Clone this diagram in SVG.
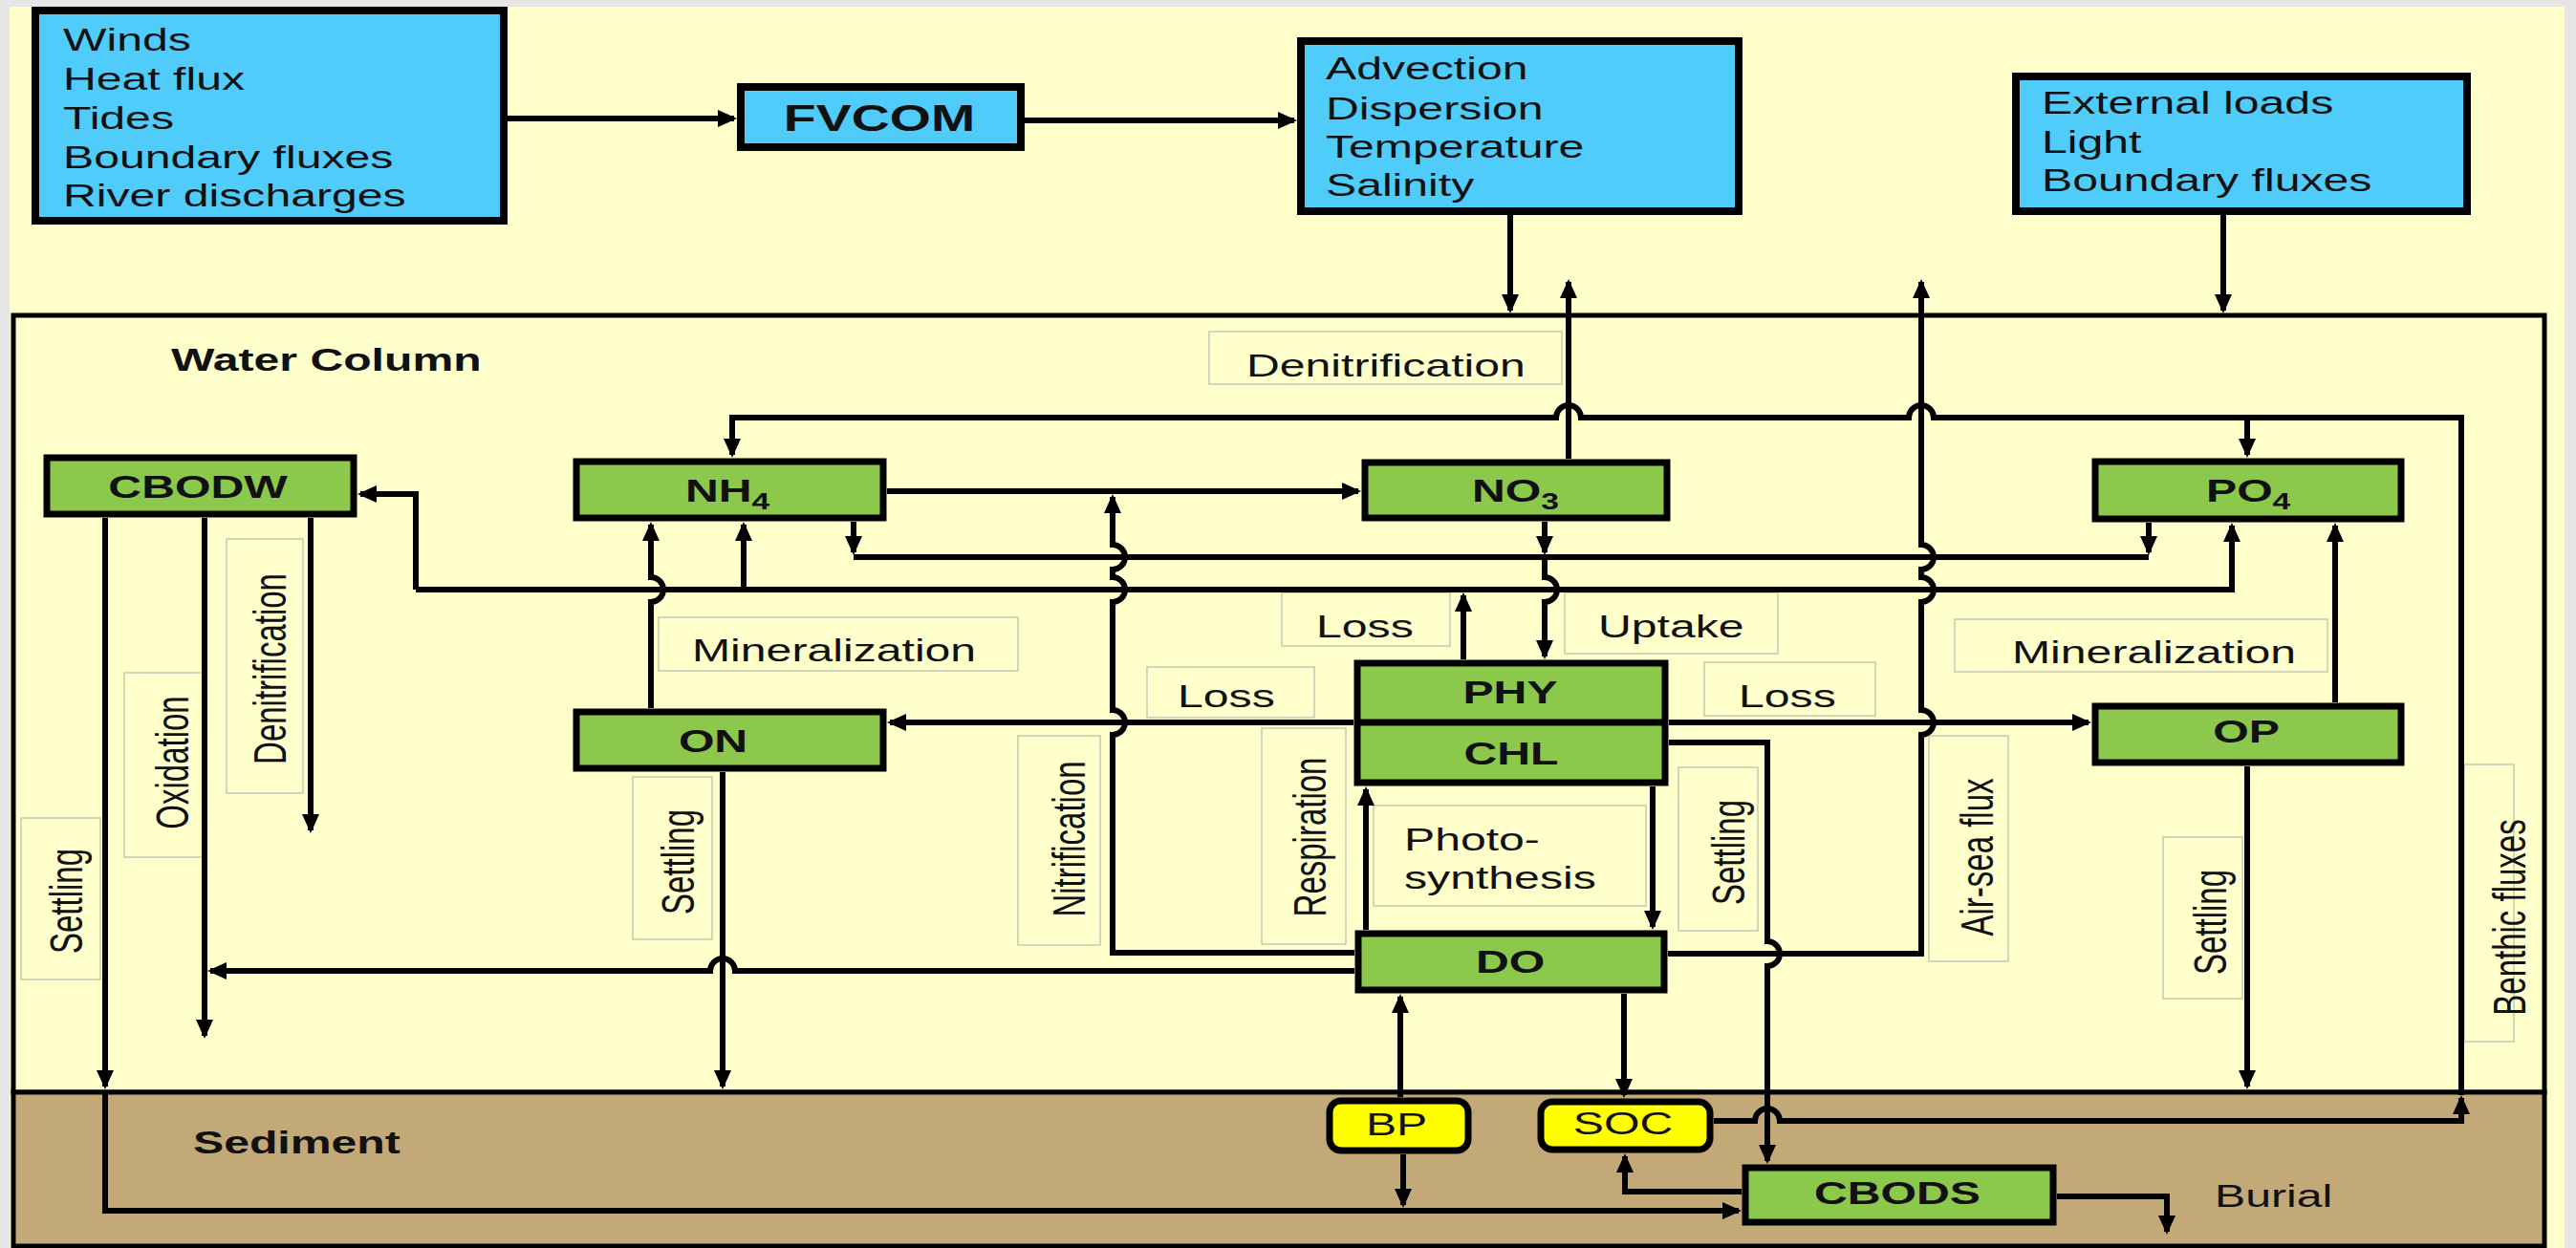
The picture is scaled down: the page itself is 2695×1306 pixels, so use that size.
<svg xmlns="http://www.w3.org/2000/svg" width="2695" height="1306" viewBox="0 0 2695 1306">
<defs>
<style>
.t{font-family:"Liberation Sans",Arial,sans-serif;font-size:33px;fill:#111}
.b{font-weight:bold}
.in{fill:#4FCCFA;stroke:#000;stroke-width:8}
.nd{fill:#8CC84B;stroke:#000;stroke-width:7}
.ye{fill:#FFFF00;stroke:#000;stroke-width:7}
.lb{fill:none;stroke:#C8C8B4;stroke-width:1.5}
.c{fill:none;stroke:#000;stroke-width:6}
.a{marker-end:url(#ah)}
</style>
<marker id="ah" viewBox="0 0 20 18" refX="17" refY="9" markerWidth="20" markerHeight="18" markerUnits="userSpaceOnUse" orient="auto">
<path d="M0,0 L20,9 L0,18 z" fill="#000"/>
</marker>
</defs>

<rect x="0" y="0" width="2695" height="1306" fill="#E6E6E6"/>
<rect x="10" y="7" width="2673" height="1299" fill="#FFFFCC"/>

<g id="water-column">
<rect x="14" y="330" width="2648" height="813" fill="#FFFFCC" stroke="#000" stroke-width="5"/>
<text class="t b" transform="translate(179,388) scale(1.46,1)">Water Column</text>
</g>
<g id="sediment">
<rect x="14" y="1143" width="2648" height="161" fill="#C3A977" stroke="#000" stroke-width="5"/>
<text class="t b" transform="translate(202,1207) scale(1.46,1)">Sediment</text>
</g>

<g id="labels">
<rect class="lb" x="1265" y="347" width="369" height="55"/>
<rect class="lb" x="689" y="646" width="376" height="56"/>
<rect class="lb" x="1341" y="620" width="176" height="56"/>
<rect class="lb" x="1637" y="620" width="223" height="64"/>
<rect class="lb" x="1200" y="698" width="175" height="53"/>
<rect class="lb" x="1783" y="693" width="179" height="56"/>
<rect class="lb" x="2045" y="648" width="390" height="55"/>
<rect class="lb" x="1437" y="843" width="285" height="105"/>
<rect class="lb" x="1320" y="762" width="88" height="226"/>
<rect class="lb" x="1065" y="770" width="86" height="219"/>
<rect class="lb" x="1756" y="803" width="83" height="171"/>
<rect class="lb" x="2018" y="770" width="83" height="236"/>
<rect class="lb" x="2263" y="876" width="83" height="169"/>
<rect class="lb" x="662" y="813" width="83" height="170"/>
<rect class="lb" x="22" y="856" width="83" height="169"/>
<rect class="lb" x="130" y="704" width="82" height="193"/>
<rect class="lb" x="237" y="564" width="80" height="266"/>
<rect class="lb" x="2578" y="800" width="52" height="290"/>
</g>

<g id="connectors">
<path class="c a" d="M531,124 H768"/>
<path class="c a" d="M1072,126 H1354"/>
<path class="c a" d="M1580,225 V325"/>
<path class="c a" d="M2326,225 V325"/>
<path class="c a" d="M1641,480 V295"/>
<path class="c a" d="M1745,998 H2010 V769 A13,13 0 0 0 2010,743 V630 A13,13 0 0 0 2010,604 V596 A13,13 0 0 0 2010,570 V295"/>
<path class="c a" d="M1746,777 H1849 V985 A13,13 0 0 1 1849,1011 V1215"/>
<path class="c a" d="M1729,823 V970"/>
<path class="c a" d="M1429,973 V826"/>
<path class="c a" d="M1531,690 V623"/>
<path class="c a" d="M893,546 V578"/>
<path class="c a" d="M1616,546 V578"/>
<path class="c a" d="M2248,547 V578"/>
<path class="c" d="M893,583 H2248"/>
<path class="c a" d="M1616,583 V604 A13,13 0 0 1 1616,630 V687"/>
<path class="c a" d="M435,617 H2335 V550"/>
<path class="c a" d="M435,617 V517 H377"/>
<path class="c a" d="M778,617 V549"/>
<path class="c a" d="M681,741 V630 A13,13 0 0 0 681,604 V549"/>
<path class="c a" d="M928,514 H1421"/>
<path class="c a" d="M1417,997 H1164 V769 A13,13 0 0 0 1164,743 V630 A13,13 0 0 0 1164,604 V596 A13,13 0 0 0 1164,570 V520"/>
<path class="c a" d="M1416,756 H931"/>
<path class="c a" d="M1746,756 H2185"/>
<path class="c a" d="M1417,1016 H769 A13,13 0 0 0 743,1016 H220"/>
<path class="c a" d="M110,542 V1137"/>
<path class="c a" d="M110,1143 V1267 H1819"/>
<path class="c a" d="M214,542 V1084"/>
<path class="c a" d="M325,542 V869"/>
<path class="c a" d="M756,808 V1137"/>
<path class="c a" d="M2351,802 V1137"/>
<path class="c a" d="M2443,735 V550"/>
<path class="c a" d="M1465,1148 V1043"/>
<path class="c a" d="M1468,1208 V1261"/>
<path class="c a" d="M1699,1040 V1146"/>
<path class="c a" d="M1822,1247 H1700 V1210"/>
<path class="c a" d="M1793,1173 H1836 A13,13 0 0 1 1862,1173 H2575 V1149"/>
<path class="c a" d="M2575,1146 V437 H2023 A13,13 0 0 0 1997,437 H1654 A13,13 0 0 0 1628,437 H766 V476"/>
<path class="c a" d="M2351,437 V476"/>
<path class="c a" d="M2152,1252 H2267 V1289"/>
</g>

<g id="node-forcing">
<rect class="in" x="37" y="11" width="490" height="220"/>
<text class="t" transform="translate(66,53) scale(1.46,1)">Winds</text>
<text class="t" transform="translate(66,94) scale(1.46,1)">Heat flux</text>
<text class="t" transform="translate(66,135) scale(1.46,1)">Tides</text>
<text class="t" transform="translate(66,176) scale(1.46,1)">Boundary fluxes</text>
<text class="t" transform="translate(66,216) scale(1.46,1)">River discharges</text>
</g>
<g id="node-fvcom">
<rect class="in" x="775" y="91" width="293" height="63"/>
<text class="t b" style="font-size:38px" text-anchor="middle" transform="translate(920,137) scale(1.46,1)">FVCOM</text>
</g>
<g id="node-hydro">
<rect class="in" x="1361" y="43" width="458" height="178"/>
<text class="t" transform="translate(1387,83) scale(1.46,1)">Advection</text>
<text class="t" transform="translate(1387,125) scale(1.46,1)">Dispersion</text>
<text class="t" transform="translate(1387,165) scale(1.46,1)">Temperature</text>
<text class="t" transform="translate(1387,205) scale(1.46,1)">Salinity</text>
</g>
<g id="node-external">
<rect class="in" x="2109" y="80" width="472" height="141"/>
<text class="t" transform="translate(2136,119) scale(1.46,1)">External loads</text>
<text class="t" transform="translate(2136,160) scale(1.46,1)">Light</text>
<text class="t" transform="translate(2136,200) scale(1.46,1)">Boundary fluxes</text>
</g>

<g id="node-cbodw">
<rect class="nd" x="49" y="479" width="321" height="59"/>
<text class="t b" text-anchor="middle" transform="translate(207,521) scale(1.46,1)">CBODW</text>
</g>
<g id="node-nh4">
<rect class="nd" x="603" y="483" width="321" height="59"/>
<text class="t b" transform="translate(717,525) scale(1.46,1)">NH<tspan dy="8" style="font-size:23px">4</tspan></text>
</g>
<g id="node-no3">
<rect class="nd" x="1428" y="484" width="316" height="58"/>
<text class="t b" transform="translate(1540,525) scale(1.46,1)">NO<tspan dy="8" style="font-size:23px">3</tspan></text>
</g>
<g id="node-po4">
<rect class="nd" x="2192" y="483" width="320" height="60"/>
<text class="t b" transform="translate(2308,525) scale(1.46,1)">PO<tspan dy="8" style="font-size:23px">4</tspan></text>
</g>
<g id="node-on">
<rect class="nd" x="603" y="745" width="321" height="59"/>
<text class="t b" text-anchor="middle" transform="translate(746,787) scale(1.46,1)">ON</text>
</g>
<g id="node-op">
<rect class="nd" x="2192" y="739" width="320" height="59"/>
<text class="t b" text-anchor="middle" transform="translate(2350,777) scale(1.46,1)">OP</text>
</g>
<g id="node-phy-chl">
<rect class="nd" x="1420" y="694" width="322" height="125"/>
<line x1="1420" y1="756" x2="1742" y2="756" stroke="#000" stroke-width="7"/>
<text class="t b" text-anchor="middle" transform="translate(1580,736) scale(1.46,1)">PHY</text>
<text class="t b" text-anchor="middle" transform="translate(1581,800) scale(1.46,1)">CHL</text>
</g>
<g id="node-do">
<rect class="nd" x="1421" y="977" width="320" height="59"/>
<text class="t b" text-anchor="middle" transform="translate(1580,1018) scale(1.46,1)">DO</text>
</g>
<g id="node-bp">
<rect class="ye" x="1391" y="1152" width="145" height="52" rx="12"/>
<text class="t" text-anchor="middle" transform="translate(1461,1188) scale(1.46,1)">BP</text>
</g>
<g id="node-soc">
<rect class="ye" x="1612" y="1153" width="177" height="50" rx="12"/>
<text class="t" text-anchor="middle" transform="translate(1698,1187) scale(1.46,1)">SOC</text>
</g>
<g id="node-cbods">
<rect class="nd" x="1826" y="1222" width="322" height="57"/>
<text class="t b" text-anchor="middle" transform="translate(1985,1260) scale(1.46,1)">CBODS</text>
</g>

<g id="label-texts">
<text class="t" transform="translate(1304,394) scale(1.46,1)">Denitrification</text>
<text class="t" transform="translate(724,692) scale(1.46,1)">Mineralization</text>
<text class="t" transform="translate(1377,667) scale(1.46,1)">Loss</text>
<text class="t" transform="translate(1672,667) scale(1.46,1)">Uptake</text>
<text class="t" transform="translate(1232,740) scale(1.46,1)">Loss</text>
<text class="t" transform="translate(1819,740) scale(1.46,1)">Loss</text>
<text class="t" transform="translate(2105,694) scale(1.46,1)">Mineralization</text>
<text class="t" transform="translate(1469,890) scale(1.46,1)">Photo-</text>
<text class="t" transform="translate(1469,930) scale(1.46,1)">synthesis</text>
<text class="t" transform="translate(2317,1263) scale(1.46,1)">Burial</text>
<text class="t" text-anchor="middle" transform="translate(1387,876) scale(1.46,1) rotate(-90)">Respiration</text>
<text class="t" text-anchor="middle" transform="translate(1135,878) scale(1.46,1) rotate(-90)">Nitrification</text>
<text class="t" text-anchor="middle" transform="translate(1825,892) scale(1.46,1) rotate(-90)">Settling</text>
<text class="t" text-anchor="middle" transform="translate(2085,897) scale(1.46,1) rotate(-90)">Air-sea flux</text>
<text class="t" text-anchor="middle" transform="translate(2329,965) scale(1.46,1) rotate(-90)">Settling</text>
<text class="t" text-anchor="middle" transform="translate(726,902) scale(1.46,1) rotate(-90)">Settling</text>
<text class="t" text-anchor="middle" transform="translate(86,943) scale(1.46,1) rotate(-90)">Settling</text>
<text class="t" text-anchor="middle" transform="translate(197,798) scale(1.46,1) rotate(-90)">Oxidation</text>
<text class="t" text-anchor="middle" transform="translate(299,700) scale(1.46,1) rotate(-90)">Denitrification</text>
<text class="t" text-anchor="middle" transform="translate(2642,960) scale(1.46,1) rotate(-90)">Benthic fluxes</text>
</g>
</svg>
